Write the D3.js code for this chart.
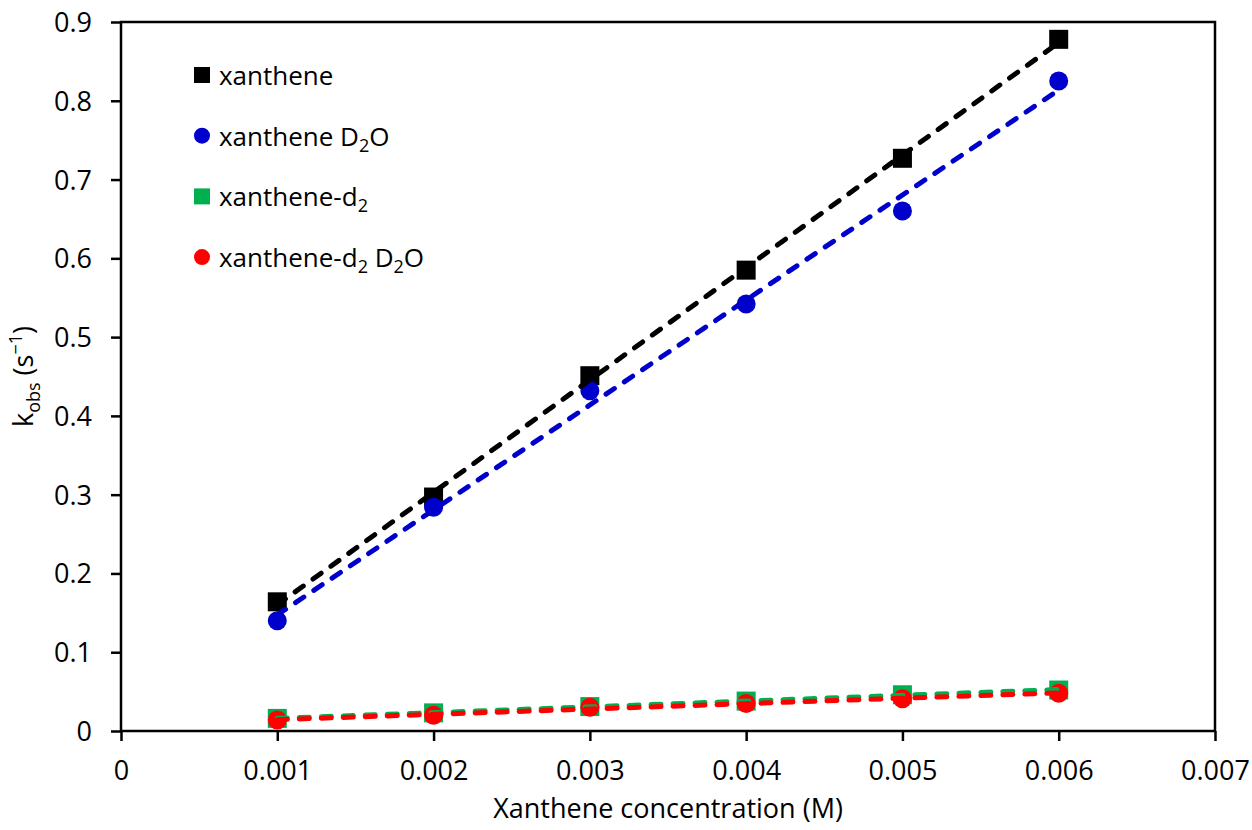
<!DOCTYPE html>
<html><head><meta charset="utf-8">
<script src="https://cdn.jsdelivr.net/npm/d3@7"></script>
<style>body{margin:0;background:#fff}svg{display:block}text{font-family:"Open Sans",sans-serif;fill:#000}</style>
</head><body><svg id="c" width="1252" height="830"></svg>
<script>
const concentrations = [0.001, 0.002, 0.003, 0.004, 0.005, 0.006];
const xanthene = [0.164, 0.297, 0.451, 0.585, 0.727, 0.878];
const xantheneD2O = [0.140, 0.284, 0.432, 0.542, 0.660, 0.825];
const xantheneD2 = [0.016, 0.023, 0.031, 0.038, 0.046, 0.052];
const xantheneD2D2O = [0.014, 0.020, 0.030, 0.035, 0.041, 0.048];
const xTicks = [0, 0.001, 0.002, 0.003, 0.004, 0.005, 0.006, 0.007];
const yTicks = [0, 0.1, 0.2, 0.3, 0.4, 0.5, 0.6, 0.7, 0.8, 0.9];

const series = [
  {name: "xanthene", values: xanthene, color: "#000000", shape: "square", label: [["xanthene", 0]]},
  {name: "xanthene D2O", values: xantheneD2O, color: "#0000CC", shape: "circle", label: [["xanthene D", 0], ["2", 1], ["O", 0]]},
  {name: "xanthene-d2", values: xantheneD2, color: "#00B050", shape: "square", label: [["xanthene-d", 0], ["2", 1]]},
  {name: "xanthene-d2 D2O", values: xantheneD2D2O, color: "#FF0000", shape: "circle", label: [["xanthene-d", 0], ["2", 1], [" D", 0], ["2", 1], ["O", 0]]}
];

const svg = d3.select("#c");
const L = 121, R = 1215, T = 22, B = 731;
const x = d3.scaleLinear().domain([0, 0.007]).range([L, R]);
const y = d3.scaleLinear().domain([0, 0.9]).range([B, T]);

const fs = 27;
const xAxis = d3.axisBottom(x).tickValues(xTicks).tickFormat(d => d === 0 ? "0" : d3.format(".3f")(d)).tickSize(10).tickSizeOuter(0);
const gx = svg.append("g").attr("transform", `translate(0,${B})`).call(xAxis);
gx.select(".domain").remove();
gx.selectAll("line").attr("stroke", "#000").attr("stroke-width", 2.5);
gx.selectAll("text").attr("font-size", fs).attr("font-family", "Open Sans").attr("fill", "#000").attr("dy", null).attr("y", 49);

const yAxis = d3.axisLeft(y).tickValues(yTicks).tickFormat(d => d === 0 ? "0" : d3.format(".1f")(d)).tickSize(10).tickSizeOuter(0);
const gy = svg.append("g").attr("transform", `translate(${L},0)`).call(yAxis);
gy.select(".domain").remove();
gy.selectAll("line").attr("stroke", "#000").attr("stroke-width", 2.5);
gy.selectAll("text").attr("font-size", fs).attr("font-family", "Open Sans").attr("fill", "#000").attr("x", -29).attr("dy", "0.35em");

svg.append("rect").attr("x", L).attr("y", T).attr("width", R - L).attr("height", B - T)
  .attr("fill", "none").attr("stroke", "#000").attr("stroke-width", 2.5);

svg.append("text").attr("x", (L + R) / 2).attr("y", 818).attr("text-anchor", "middle").attr("font-size", fs)
  .text("Xanthene concentration (M)");
const yt = svg.append("text").attr("transform", `translate(33,${(T + B) / 2}) rotate(-90)`).attr("text-anchor", "middle").attr("font-size", fs);
yt.append("tspan").text("k");
yt.append("tspan").attr("font-size", 18).attr("dy", 7).text("obs");
yt.append("tspan").attr("dy", -7).text(" (s");
yt.append("tspan").attr("font-size", 18).attr("dy", -11).text("\u22121");
yt.append("tspan").attr("dy", 11).text(")");

const ms = 19;
series.forEach(s => {
  const pts = concentrations.map((c, i) => [c, s.values[i]]);
  const g = svg.append("g");
  if (s.shape === "square") {
    g.selectAll("rect").data(pts).join("rect")
      .attr("x", d => x(d[0]) - ms / 2).attr("y", d => y(d[1]) - ms / 2)
      .attr("width", ms).attr("height", ms).attr("fill", s.color);
  } else {
    g.selectAll("circle").data(pts).join("circle")
      .attr("cx", d => x(d[0])).attr("cy", d => y(d[1])).attr("r", ms / 2).attr("fill", s.color);
  }
});

series.forEach(s => {
  const mx = d3.mean(concentrations), my = d3.mean(s.values);
  let sxy = 0, sxx = 0;
  concentrations.forEach((c, i) => { sxy += (c - mx) * (s.values[i] - my); sxx += (c - mx) * (c - mx); });
  const m = sxy / sxx, b = my - m * mx;
  const ends = d3.extent(concentrations);
  svg.append("line")
    .attr("x1", x(ends[0])).attr("y1", y(m * ends[0] + b))
    .attr("x2", x(ends[1])).attr("y2", y(m * ends[1] + b))
    .attr("stroke", s.color).attr("stroke-width", 5).attr("stroke-linecap", "round")
    .attr("stroke-dasharray", "10,12");
});

const ly0 = 75, ldy = 60.7;
series.forEach((s, i) => {
  const cy = ly0 + i * ldy;
  if (s.shape === "square") {
    svg.append("rect").attr("x", 194).attr("y", cy - 8).attr("width", 16).attr("height", 16).attr("fill", s.color);
  } else {
    svg.append("circle").attr("cx", 202).attr("cy", cy).attr("r", 8).attr("fill", s.color);
  }
  const t = svg.append("text").attr("x", 219).attr("y", cy + 10).attr("font-size", 26);
  let shifted = 0;
  s.label.forEach(([txt, sub]) => {
    const ts = t.append("tspan").text(txt);
    if (sub && !shifted) { ts.attr("font-size", 18).attr("dy", 6); shifted = 1; }
    else if (!sub && shifted) { ts.attr("dy", -6); shifted = 0; }
    else if (sub) { ts.attr("font-size", 18); }
  });
});
</script></body></html>
